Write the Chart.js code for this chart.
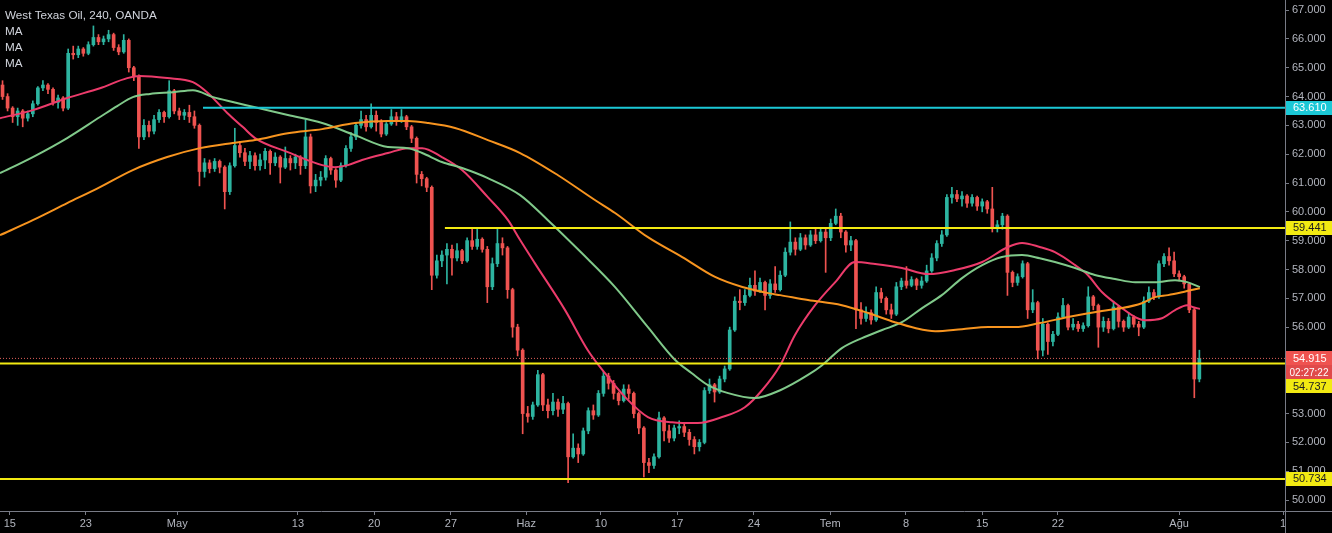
<!DOCTYPE html>
<html>
<head>
<meta charset="utf-8">
<script src="https://cdn.jsdelivr.net/npm/chart.js@4.4.1/dist/chart.umd.min.js"></script>
<style>
html,body{margin:0;padding:0;background:#000;}
#wrap{width:1332px;height:533px;position:relative;background:#000;}
</style>
</head>
<body>
<div id="wrap"><canvas id="c"></canvas></div>
<script>
// ---------- DATA ----------
const chartTitle = 'West Texas Oil, 240, OANDA';
const legendLabels = ['MA', 'MA', 'MA'];

const opens = [
64.4,64.0,63.6,63.3,63.5,63.25,63.4,63.75,64.3,64.4,
64.25,63.8,63.95,63.6,65.5,65.45,65.65,65.5,65.8,66.05,
65.9,66.0,66.15,65.7,65.55,65.95,65.0,64.7,62.6,63.0,
62.8,63.2,63.45,63.3,64.2,63.5,63.35,63.45,63.3,63.0,
61.4,61.7,61.5,61.75,61.55,60.7,61.6,62.3,62.05,61.75,
61.95,61.6,61.8,62.1,61.7,61.9,61.55,61.85,61.7,61.9,
61.6,62.6,60.9,61.1,61.2,61.85,61.45,61.1,61.6,62.2,
62.6,63.0,63.2,62.95,63.35,63.1,62.7,63.05,63.3,63.15,
63.3,62.95,62.55,61.3,61.15,60.85,57.8,58.3,58.5,58.7,
58.4,58.65,58.3,59.0,58.8,59.05,58.7,57.4,58.2,58.9,
58.75,57.3,56.0,55.2,53.0,52.9,53.3,54.35,53.3,53.1,
53.4,53.15,53.35,51.5,51.8,51.6,52.4,53.1,52.95,53.7,
54.3,54.05,53.7,53.45,53.85,53.7,53.0,52.5,51.3,51.2,
51.5,52.85,52.4,52.15,52.5,52.55,52.35,52.1,51.85,52.0,
53.8,54.0,53.75,54.2,54.55,55.9,56.9,56.85,57.1,57.45,
57.25,57.55,57.1,57.5,57.3,57.8,58.6,58.95,58.7,59.1,
58.85,59.2,59.0,59.3,59.1,59.6,59.85,59.3,58.85,59.0,
56.6,56.3,56.5,56.25,57.2,57.0,56.6,56.45,57.4,57.6,
57.45,57.65,57.45,57.6,57.95,58.4,58.9,59.2,60.5,60.6,
60.45,60.55,60.3,60.5,60.2,60.35,60.1,59.45,59.55,59.85,
57.9,57.55,57.75,58.2,56.6,56.85,55.2,56.1,55.5,55.75,
56.35,56.75,56.0,56.1,55.95,56.05,57.05,56.75,56.0,56.2,
55.95,56.7,56.2,56.0,56.35,56.1,56.0,56.9,57.2,57.05,
58.2,58.45,58.3,57.85,57.75,57.5,56.6,54.2
];
const highs = [
64.55,64.1,63.65,63.6,63.55,63.5,63.85,64.35,64.55,64.45,
64.3,64.05,64.0,65.65,65.75,65.75,65.7,65.9,66.45,66.15,
66.1,66.3,66.2,65.8,66.15,66.0,65.05,64.75,63.2,63.15,
63.35,63.55,63.5,64.55,64.25,63.6,63.55,63.7,63.5,63.05,
61.85,61.8,61.85,61.8,61.6,61.7,62.9,62.45,62.2,62.1,
62.05,62.0,62.2,62.15,62.05,61.95,62.25,61.95,62.0,61.95,
63.2,62.7,61.3,61.4,61.95,61.9,61.5,61.7,62.3,62.75,
63.1,63.5,63.35,63.75,63.5,63.2,63.1,63.55,63.45,63.55,
63.35,63.0,62.6,61.4,61.2,60.9,58.5,58.65,58.9,58.85,
58.9,58.7,59.1,59.4,59.4,59.1,58.8,58.4,59.45,59.1,
58.8,57.35,56.1,55.25,53.25,53.4,54.5,54.4,53.5,53.7,
53.5,53.6,53.4,52.3,51.95,52.5,53.2,53.3,53.8,54.45,
54.4,54.15,53.75,54.0,54.0,53.75,53.05,52.55,51.45,51.6,
53.05,52.9,52.6,52.6,52.75,52.65,52.45,52.2,52.1,53.9,
54.2,54.05,54.3,54.65,56.0,57.05,57.3,57.3,57.7,57.95,
57.7,57.6,57.65,58.1,57.95,58.75,59.65,59.1,59.25,59.2,
59.35,59.45,59.45,59.4,59.75,60.1,59.95,59.35,59.15,59.05,
56.85,56.7,56.6,57.4,57.35,57.05,56.8,57.55,57.7,58.1,
57.75,57.7,57.75,58.15,58.55,59.0,59.35,60.6,60.85,60.75,
60.7,60.6,60.6,60.55,60.45,60.4,60.85,59.7,59.95,59.9,
57.95,57.85,58.3,58.25,57.3,56.9,56.3,56.15,55.85,56.5,
57.0,56.8,56.3,56.2,56.15,57.4,57.1,56.8,56.35,56.3,
56.9,56.75,56.25,56.5,56.4,56.2,57.05,57.4,57.3,58.3,
58.55,58.75,58.6,57.95,57.8,57.55,56.65,55.2
];
const lows = [
63.9,63.5,63.1,63.0,62.95,63.15,63.3,63.7,64.2,64.1,
63.7,63.6,63.5,63.55,65.3,65.35,65.4,65.45,65.75,65.8,
65.8,65.9,65.6,65.45,65.5,64.85,64.55,62.2,62.5,62.6,
62.7,63.1,63.1,63.25,63.4,63.2,63.2,63.1,62.9,60.9,
61.2,61.35,61.4,61.35,60.1,60.6,61.55,61.9,61.6,61.5,
61.45,61.45,61.5,61.3,61.6,61.0,61.5,61.45,61.5,61.3,
61.5,60.65,60.7,60.9,61.1,61.3,60.85,61.05,61.55,62.1,
62.5,62.9,62.8,62.9,62.8,62.6,62.65,63.0,63.0,63.1,
62.85,62.4,61.0,60.9,60.7,57.3,57.7,58.1,57.5,57.8,
58.3,58.2,58.25,58.7,58.7,58.6,56.85,57.3,58.1,58.5,
57.0,55.65,55.0,52.3,52.7,52.8,53.25,53.1,52.85,52.95,
52.9,53.0,50.6,51.45,51.3,51.55,52.3,52.8,52.9,53.6,
53.85,53.5,53.3,53.4,53.5,52.85,52.3,50.8,50.95,51.1,
51.45,52.05,52.0,52.05,52.3,52.2,51.9,51.6,51.7,51.95,
53.7,53.4,53.7,54.1,54.5,55.85,56.6,56.75,57.05,57.1,
57.2,56.6,57.0,57.2,57.25,57.75,58.5,58.5,58.65,58.7,
58.8,58.9,58.95,57.9,59.0,59.55,59.1,58.6,58.65,55.95,
56.1,56.2,56.1,56.2,56.85,56.45,56.3,56.4,57.3,57.35,
57.4,57.3,57.35,57.55,57.9,58.3,58.8,59.15,60.3,60.35,
60.2,60.15,60.2,60.05,60.0,59.95,59.3,59.3,59.4,57.1,
57.4,57.45,57.7,56.3,56.5,54.9,55.0,55.05,55.35,55.7,
56.3,55.9,55.9,55.85,55.85,56.0,56.6,55.3,55.85,55.8,
55.9,56.0,55.85,55.95,56.0,55.7,55.95,56.85,56.95,57.0,
58.1,58.15,57.75,57.6,57.35,56.5,53.55,54.1
];
const closes = [
64.0,63.6,63.3,63.5,63.25,63.4,63.75,64.3,64.4,64.25,
63.8,63.95,63.6,65.5,65.45,65.65,65.5,65.8,66.05,65.9,
66.0,66.15,65.7,65.55,65.95,65.0,64.7,62.6,63.0,62.8,
63.2,63.45,63.3,64.2,63.5,63.35,63.45,63.3,63.0,61.4,
61.7,61.5,61.75,61.55,60.7,61.6,62.3,62.05,61.75,61.95,
61.6,61.8,62.1,61.7,61.9,61.55,61.85,61.7,61.9,61.6,
62.6,60.9,61.1,61.2,61.85,61.45,61.1,61.6,62.2,62.6,
63.0,63.2,62.95,63.35,63.1,62.7,63.05,63.3,63.15,63.3,
62.95,62.55,61.3,61.15,60.85,57.8,58.3,58.5,58.7,58.4,
58.65,58.3,59.0,58.8,59.05,58.7,57.4,58.2,58.9,58.75,
57.3,56.0,55.2,53.0,52.9,53.3,54.35,53.3,53.1,53.4,
53.15,53.35,51.5,51.8,51.6,52.4,53.1,52.95,53.7,54.3,
54.05,53.7,53.45,53.85,53.7,53.0,52.5,51.3,51.2,51.5,
52.85,52.4,52.15,52.5,52.55,52.35,52.1,51.85,52.0,53.8,
54.0,53.75,54.2,54.55,55.9,56.9,56.85,57.1,57.45,57.25,
57.55,57.1,57.5,57.3,57.8,58.6,58.95,58.7,59.1,58.85,
59.2,59.0,59.3,59.1,59.6,59.85,59.3,58.85,59.0,56.6,
56.3,56.5,56.25,57.2,57.0,56.6,56.45,57.4,57.6,57.45,
57.65,57.45,57.6,57.95,58.4,58.9,59.2,60.5,60.6,60.45,
60.55,60.3,60.5,60.2,60.35,60.1,59.45,59.55,59.85,57.9,
57.55,57.75,58.2,56.6,56.85,55.2,56.1,55.5,55.75,56.35,
56.75,56.0,56.1,55.95,56.05,57.05,56.75,56.0,56.2,55.95,
56.7,56.2,56.0,56.35,56.1,56.0,56.9,57.2,57.05,58.2,
58.45,58.3,57.85,57.75,57.5,56.6,54.2,54.915
];

// moving averages (bar index, price)
const maFastX = [-0.5,6.0,12.8,19.3,24.7,27.2,32.6,37.7,40.5,44.5,47.6,50.0,56.5,63.3,65.8,68.4,71.2,76.3,80.3,83.1,87.0,91.0,96.1,100.1,102.5,105.4,111.4,115.9,119.3,123.3,127.8,132.6,137.7,142.5,147.0,150.4,154.0,156.9,160.9,164.9,168.8,172.8,178.1,183.3,188.6,194.0,199.1,201.9,205.4,208.4,212.4,214.9,217.7,221.7,224.3,226.2,229.6,232.2,234.6,235.8,237.1];
const maFastY = [63.25,63.53,63.95,64.29,64.64,64.71,64.64,64.50,64.15,63.43,62.94,62.56,62.07,61.62,61.55,61.62,61.80,62.04,62.21,62.21,61.90,61.45,60.51,59.71,59.02,58.22,56.59,55.20,54.40,53.57,52.88,52.70,52.67,52.88,53.22,53.81,54.68,55.72,56.76,57.56,58.26,58.19,58.05,57.84,57.98,58.26,58.78,58.92,58.78,58.60,58.15,57.81,57.22,56.66,56.35,56.24,56.31,56.59,56.76,56.69,56.63];
const maMidX = [-0.5,6.0,12.8,19.3,22.7,25.8,29.2,33.8,37.7,41.7,45.6,50.0,56.5,63.3,69.8,76.3,80.3,83.1,87.0,91.0,96.1,102.5,108.0,114.7,121.3,127.8,133.2,136.5,139.7,143.7,149.0,154.0,159.5,162.3,166.2,170.2,174.2,178.1,182.1,186.0,190.0,194.0,197.9,201.9,205.4,208.4,212.4,216.3,220.3,224.3,228.2,232.2,234.6,237.1];
const maMidY = [61.34,61.90,62.56,63.29,63.67,63.98,64.09,64.15,64.22,63.98,63.81,63.63,63.36,63.08,62.66,62.25,62.21,62.04,61.73,61.52,61.17,60.58,59.71,58.57,57.39,56.00,54.86,54.40,53.99,53.71,53.54,53.81,54.34,54.68,55.27,55.62,55.90,56.17,56.66,57.11,57.70,58.15,58.43,58.50,58.39,58.26,58.05,57.81,57.67,57.56,57.56,57.63,57.56,57.39];
const maSlowX = [-0.5,6.0,12.8,19.3,25.8,32.6,39.1,45.6,50.0,56.5,63.3,69.8,76.3,80.3,84.3,89.6,96.1,102.5,110.0,117.3,121.3,127.8,134.6,141.1,146.5,151.6,154.0,159.5,166.2,171.4,176.7,180.7,184.7,190.0,195.2,200.5,205.4,211.0,217.7,221.7,225.6,228.2,230.8,233.6,237.1];
const maSlowY = [59.19,59.71,60.30,60.86,61.45,61.90,62.21,62.39,62.49,62.73,62.87,63.08,63.15,63.15,63.08,62.91,62.49,62.04,61.27,60.41,59.96,59.12,58.43,57.74,57.39,57.18,57.11,56.94,56.76,56.49,56.17,55.97,55.86,55.93,56.00,56.00,56.14,56.35,56.56,56.66,56.83,57.04,57.11,57.21,57.35];

// horizontal levels
const levelValues = [63.61, 59.441, 54.737, 50.734];
const levelStart  = [39.7, 87.6, -0.5, -0.5];
const currentPrice = 54.915;
const countdownText = '02:27:22';

// axes
const xTickPos    = [1.45, 16.5, 34.6, 58.5, 73.6, 88.8, 103.7, 118.5, 133.6, 148.8, 163.9, 178.9, 194.0, 209.0, 233.0, 253.6];
const xTickLabels = ['15','23','May','13','20','27','Haz','10','17','24','Tem','8','15','22','Ağu','1'];
const yMin = 49.62, yMax = 67.35, xMin = -0.5, xMax = 253.96;

// ---------- STYLE ----------
const UP = '#2db4a0', DOWN = '#ef5350';
const C_PINK = '#ec3b6b', C_GREEN = '#80c98a', C_ORANGE = '#f7941f';
const C_CYAN = '#1bc8d6', C_YEL = '#f2ea12';
const levelColors = [C_CYAN, C_YEL, C_YEL, C_YEL];
const AXIS = '#787b86', TXT = '#b2b5be';

const candleColors = closes.map((c, i) => c >= opens[i] ? UP : DOWN);
const wickData = closes.map((c, i) => ({x: i, y: [Math.min(lows[i], opens[i], c), Math.max(highs[i], opens[i], c)]}));
const bodyData = closes.map((c, i) => ({x: i, y: [Math.min(opens[i], c), Math.max(opens[i], c)]}));
const zip = (xs, ys) => xs.map((x, i) => ({x, y: ys[i]}));

const maLine = (xs, ys, color) => ({
  type: 'line', data: zip(xs, ys), borderColor: color, borderWidth: 2,
  pointRadius: 0, cubicInterpolationMode: 'monotone', order: 5
});

const datasets = [
  {type: 'bar', data: wickData, backgroundColor: candleColors, barThickness: 1, grouped: false, order: 21},
  {type: 'bar', data: bodyData, backgroundColor: candleColors, barThickness: 3, grouped: false, minBarLength: 1, order: 20},
  maLine(maSlowX, maSlowY, C_ORANGE),
  maLine(maMidX, maMidY, C_GREEN),
  maLine(maFastX, maFastY, C_PINK),
  {type: 'line', data: [{x: xMin, y: currentPrice}, {x: xMax, y: currentPrice}], borderColor: '#e0605a',
   borderWidth: 1, borderDash: [1, 2], pointRadius: 0, order: 3}
];
levelValues.forEach((v, k) => {
  datasets.push({type: 'line', data: [{x: levelStart[k], y: v}, {x: xMax, y: v}],
    borderColor: levelColors[k], borderWidth: 2, pointRadius: 0, order: 1});
});

const overlay = {
  id: 'overlay',
  afterDraw(chart) {
    const ctx = chart.ctx, ca = chart.chartArea, ys = chart.scales.y;
    const W = chart.width, H = chart.height;
    ctx.save();
    ctx.strokeStyle = AXIS; ctx.lineWidth = 1;
    ctx.beginPath();
    ctx.moveTo(ca.right, Math.round(ca.bottom) + 0.5); ctx.lineTo(W, Math.round(ca.bottom) + 0.5);
    ctx.moveTo(Math.round(ca.right) + 0.5, ca.bottom); ctx.lineTo(Math.round(ca.right) + 0.5, H);
    ctx.stroke();
    ctx.fillStyle = '#d1d4dc';
    ctx.font = '11.7px "Liberation Sans", Arial, sans-serif';
    ctx.textBaseline = 'middle'; ctx.textAlign = 'left';
    ctx.fillText(chartTitle, 5, 15.5);
    legendLabels.forEach((t, k) => ctx.fillText(t, 5, 31.5 + k * 16));
    const tags = [
      {v: levelValues[0], bg: C_CYAN, fg: '#ffffff', t: levelValues[0].toFixed(3)},
      {v: levelValues[1], bg: C_YEL, fg: '#202020', t: levelValues[1].toFixed(3)},
      {v: currentPrice, bg: '#ef5350', fg: '#ffffff', t: currentPrice.toFixed(3)},
      {v: currentPrice - 0.0001, bg: '#e04a4a', fg: '#ffffff', t: countdownText, small: true},
      {v: levelValues[2], bg: C_YEL, fg: '#202020', t: levelValues[2].toFixed(3)},
      {v: levelValues[3], bg: C_YEL, fg: '#202020', t: levelValues[3].toFixed(3)}
    ];
    const bh = 14;
    let last = -Infinity;
    tags.forEach(tg => {
      let y = ys.getPixelForValue(tg.v);
      if (y - bh / 2 < last) y = last + bh / 2;
      last = y + bh / 2;
      tg.y = y;
    });
    tags.forEach(tg => {
      ctx.fillStyle = tg.bg;
      ctx.fillRect(Math.round(ca.right) + 1, Math.round(tg.y - bh / 2), W - ca.right, bh);
      ctx.fillStyle = tg.fg;
      if (tg.small) {
        ctx.font = '10px "Liberation Sans", Arial, sans-serif';
        ctx.textAlign = 'center';
        ctx.fillText(tg.t, (ca.right + W) / 2 + 0.5, tg.y + 0.5);
        ctx.textAlign = 'left';
      } else {
        ctx.font = '11px "Liberation Sans", Arial, sans-serif';
        ctx.fillText(tg.t, ca.right + 8, tg.y + 0.5);
      }
    });
    ctx.restore();
  }
};

Chart.defaults.font.family = '"Liberation Sans", Arial, sans-serif';

new Chart(document.getElementById('c'), {
  type: 'bar',
  data: {datasets},
  options: {
    responsive: true, maintainAspectRatio: false, animation: false,
    events: [],
    layout: {padding: 0},
    plugins: {legend: {display: false}, tooltip: {enabled: false}},
    scales: {
      x: {
        type: 'linear', min: xMin, max: xMax, offset: false, position: 'bottom',
        afterBuildTicks: s => { s.ticks = xTickPos.map(v => ({value: v})); },
        afterFit: s => { s.height = 22; s.paddingLeft = 0; s.paddingRight = 0; },
        ticks: {autoSkip: false, maxRotation: 0, minRotation: 0, color: TXT, font: {size: 11}, padding: 2,
                callback: (v, i) => xTickLabels[i]},
        grid: {display: true, offset: false, drawOnChartArea: false, drawTicks: true, tickLength: 4, color: AXIS},
        border: {display: true, color: AXIS, width: 1}
      },
      y: {
        position: 'right', min: yMin, max: yMax,
        afterFit: s => { s.width = 47; s.paddingTop = 0; s.paddingBottom = 0; },
        ticks: {stepSize: 1, includeBounds: false, color: TXT, font: {size: 11}, padding: 3,
                callback: v => Number(v).toFixed(3)},
        grid: {display: true, offset: false, drawOnChartArea: false, drawTicks: true, tickLength: 4, color: AXIS},
        border: {display: true, color: AXIS, width: 1}
      }
    }
  },
  plugins: [overlay]
});
</script>
</body>
</html>
